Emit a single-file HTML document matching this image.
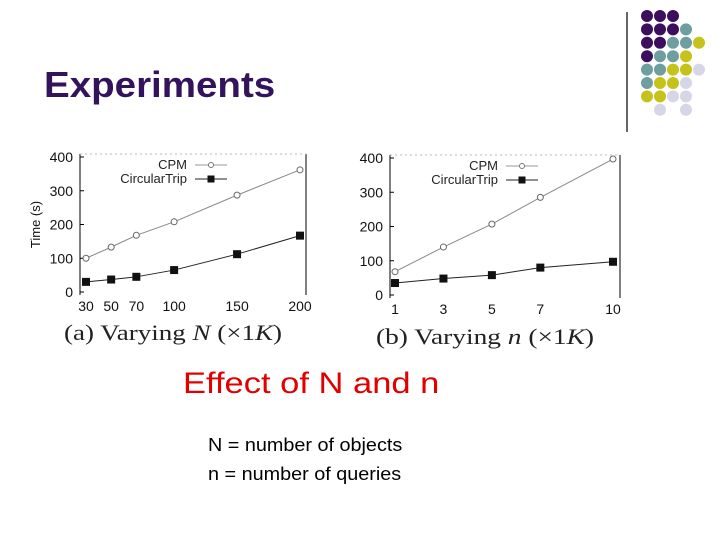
<!DOCTYPE html>
<html><head><meta charset="utf-8"><style>
body{margin:0;width:720px;height:540px;background:#fff;overflow:hidden;position:relative;font-family:"Liberation Sans",sans-serif}
.t{position:absolute;white-space:nowrap;transform-origin:0 0}
</style></head><body>
<div class="t" style="left:44px;top:64px;font-size:36px;font-weight:bold;color:#33135c;transform:scaleX(1.07)">Experiments</div>
<svg width="720" height="540" style="position:absolute;left:0;top:0" id="deco"></svg>
<svg width="720" height="540" style="position:absolute;left:0;top:0" id="ch"></svg>
<div class="t" style="left:183px;top:367px;font-size:30px;color:#e00000;transform:scaleX(1.15)">Effect of N and n</div>
<div class="t" style="left:208px;top:435px;font-size:18px;color:#000;transform:scaleX(1.1)">N = number of objects</div>
<div class="t" style="left:208px;top:464px;font-size:18px;color:#000;transform:scaleX(1.1)">n = number of queries</div>
<script>
const NS="http://www.w3.org/2000/svg";
function mk(p,t,a){const e=document.createElementNS(NS,t);for(const k in a)e.setAttribute(k,a[k]);p.appendChild(e);return e;}
const deco=document.getElementById('deco');
const grid=["PPP","PPPT","PPTTY","PTTY","TTYYL","TYYL","YYLL"," L L"];
const col={P:"#3b0f5e",T:"#6e9ea0",Y:"#c5c21a",L:"#d6d6e8"};
const ln=mk(deco,'line',{x1:627,y1:12,x2:627,y2:132,stroke:'#000','stroke-width':1.2});


grid.forEach((r,i)=>{[...r].forEach((c,j)=>{if(c===' ')return;
const d=mk(deco,'circle',{cx:647+j*13,cy:16+i*13.4,r:6,fill:col[c]});

});});

const aX=[30,50,70,100,150,200];
const aCPM=[100,133,168,208,287,362];
const aCT=[30,37,45,65,112,167];
const bX=[1,3,5,7,10];
const bCPM=[68,140,207,285,397];
const bCT=[35,48,58,80,97];
const yTicks=[0,100,200,300,400];

const ch=document.getElementById('ch');
function chart(cfg){
  const g=mk(ch,'g',{});
  
  
  const sx=v=>cfg.x0+(v-cfg.xmin)/(cfg.xmax-cfg.xmin)*(cfg.x1-cfg.x0);
  const sy=v=>cfg.y0-v/400*(cfg.y0-cfg.y1);
  mk(g,'line',{x1:cfg.left,y1:cfg.y1-3,x2:cfg.left,y2:cfg.y0+3,stroke:'#000'});
  mk(g,'line',{x1:cfg.right,y1:cfg.y1-3,x2:cfg.right,y2:cfg.y0+3,stroke:'#000'});
  mk(g,'line',{x1:cfg.left,y1:cfg.y1-3,x2:cfg.right,y2:cfg.y1-3,stroke:'#bbb','stroke-dasharray':'2,3'});
  yTicks.forEach(t=>{const tx=mk(g,'text',{x:cfg.left-7,y:sy(t)+5,'text-anchor':'end','font-size':14,fill:'#111'});tx.textContent=t;
    mk(g,'line',{x1:cfg.left,y1:sy(t),x2:cfg.left+4,y2:sy(t),stroke:'#000'});});
  cfg.xs.forEach(t=>{const tx=mk(g,'text',{x:sx(t),y:cfg.y0+19,'text-anchor':'middle','font-size':14,fill:'#111'});tx.textContent=t;});
  const p1=cfg.xs.map((x,i)=>sx(x)+','+sy(cfg.cpm[i])).join(' ');
  const l1=mk(g,'polyline',{points:p1,fill:'none',stroke:'#888','stroke-width':1});
  
  
  const p2=cfg.xs.map((x,i)=>sx(x)+','+sy(cfg.ct[i])).join(' ');
  const l2=mk(g,'polyline',{points:p2,fill:'none',stroke:'#222','stroke-width':1});
  
  
  cfg.xs.forEach((x,i)=>{
    const c=mk(g,'circle',{cx:sx(x),cy:sy(cfg.cpm[i]),r:3,fill:'#fff',stroke:'#666'});
    
    
    const r=mk(g,'rect',{x:sx(x)-4,y:sy(cfg.ct[i])-4,width:8,height:8,fill:'#111'});
    
    
  });
  const lx=cfg.legX;
  let t=mk(g,'text',{x:lx,y:cfg.y1+12,'text-anchor':'end','font-size':13,fill:'#222'});t.textContent='CPM';
  mk(g,'line',{x1:lx+8,y1:cfg.y1+8,x2:lx+40,y2:cfg.y1+8,stroke:'#999'});
  mk(g,'circle',{cx:lx+24,cy:cfg.y1+8,r:2.5,fill:'#fff',stroke:'#777'});
  t=mk(g,'text',{x:lx,y:cfg.y1+26,'text-anchor':'end','font-size':13,fill:'#222'});t.textContent='CircularTrip';
  mk(g,'line',{x1:lx+8,y1:cfg.y1+22,x2:lx+40,y2:cfg.y1+22,stroke:'#222'});
  mk(g,'rect',{x:lx+20.5,y:cfg.y1+18.5,width:7,height:7,fill:'#111'});
  const cap=mk(g,'text',{x:cfg.capX,y:cfg.capY,'font-size':22,'font-family':'Liberation Serif, serif',fill:'#222',textLength:218,lengthAdjust:'spacingAndGlyphs'});
  cap.innerHTML=cfg.cap;
  if(cfg.ylabel){const yl=mk(g,'text',{x:0,y:0,transform:`translate(${cfg.left-40},${(cfg.y0+cfg.y1)/2}) rotate(-90)`,'text-anchor':'middle','font-size':13,fill:'#111'});yl.textContent='Time (s)';}
}
chart({name:'chart-a',xs:aX,cpm:aCPM,ct:aCT,xmin:30,xmax:200,x0:86,x1:300,y0:292,y1:157,left:80,right:306,legX:187,capX:64,capY:340,ylabel:true,
  cap:'(a) Varying <tspan font-style="italic">N</tspan> (×1<tspan font-style="italic">K</tspan>)'});
chart({name:'chart-b',xs:bX,cpm:bCPM,ct:bCT,xmin:1,xmax:10,x0:395,x1:613,y0:295,y1:158,left:390,right:620,legX:498,capX:376,capY:344,ylabel:false,
  cap:'(b) Varying <tspan font-style="italic">n</tspan> (×1<tspan font-style="italic">K</tspan>)'});
</script>
</body></html>
